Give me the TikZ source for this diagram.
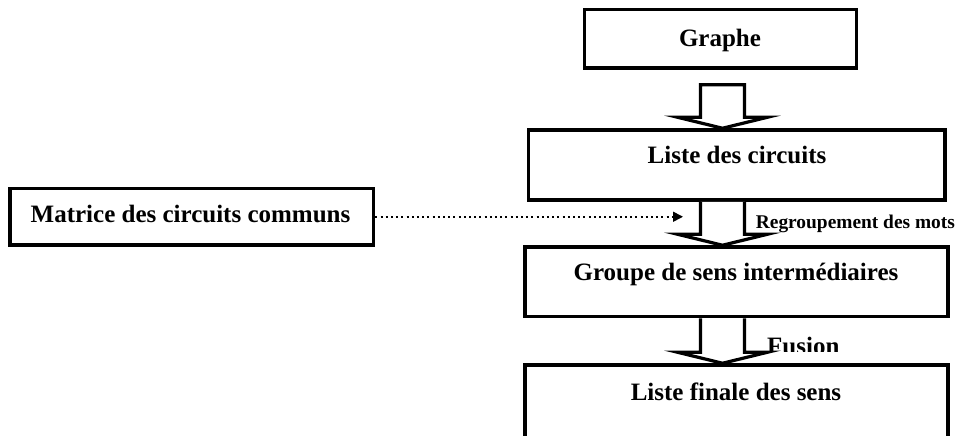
\documentclass[tikz,border=0pt]{standalone}
\usepackage{fontspec}
\setmainfont{Liberation Serif}
\usetikzlibrary{calc,arrows.meta}
\tikzset{
  box/.style={draw, line width=3.5pt, rectangle, inner sep=0pt, fill=white},
  txt/.style={font=\bfseries\fontsize{25}{28}\selectfont, inner sep=0pt, anchor=base},
  smalltxt/.style={font=\bfseries\fontsize{19.4}{22}\selectfont, inner sep=0pt, anchor=base west},
  blk/.style={draw, line width=3.2pt, fill=white, line join=miter},
  dotline/.style={line width=1.6pt, dash pattern=on 2pt off 3.2pt, -{Triangle[length=10pt,width=10pt]}}
}
\begin{document}
\begin{tikzpicture}[x=1pt,y=-1pt]
\useasboundingbox (0,0) rectangle (962,436);
\clip (0,0) rectangle (962,436);
% boxes
\node[box, minimum width=272pt, minimum height=58.5pt] (g) at (720.5,38.75) {};
\node[box, minimum width=416.5pt, minimum height=70pt] (lc) at (736.75,165) {};
\node[box, minimum width=423pt, minimum height=69.5pt] (gs) at (736.5,281.75) {};
\node[box, minimum width=423pt, minimum height=95pt] (lf) at (736.5,412.5) {};
\node[box, minimum width=363.7pt, minimum height=56.5pt] (mc) at (191.85,216.75) {};
% texts
\node[txt] (tg) at (720,47) {Graphe};
\node[txt] (tlc) at (737,163) {Liste des circuits};
\node[txt] (tgs) at (736,280) {Groupe de sens intermédiaires};
\node[txt] (tlf) at (736,400) {Liste finale des sens};
\node[txt] (tmc) at (190.5,222.5) {Matrice des circuits communs};
% block arrows
\coordinate (ax) at (722.5,0);
\draw[blk] ($(ax|-g.south)+(-22,15)$) -- ($(ax|-lc.north)+(-22,-11)$) -- ($(ax|-lc.north)+(-45,-11)$)
  -- (ax|-lc.north) -- ($(ax|-lc.north)+(45,-11)$) -- ($(ax|-lc.north)+(22,-11)$)
  -- ($(ax|-g.south)+(22,15)$) -- cycle;
\draw[blk] ($(ax|-lc.south)+(-22,0)$) -- ($(ax|-gs.north)+(-22,-11)$) -- ($(ax|-gs.north)+(-45,-11)$)
  -- (ax|-gs.north) -- ($(ax|-gs.north)+(45,-11)$) -- ($(ax|-gs.north)+(22,-11)$)
  -- ($(ax|-lc.south)+(22,0)$);
\draw[blk] ($(ax|-gs.south)+(-22,0)$) -- ($(ax|-lf.north)+(-22,-11)$) -- ($(ax|-lf.north)+(-45,-11)$)
  -- (ax|-lf.north) -- ($(ax|-lf.north)+(45,-11)$) -- ($(ax|-lf.north)+(22,-11)$)
  -- ($(ax|-gs.south)+(22,0)$);
% dotted connector
\coordinate (dt) at (683,216.75);
\draw[dotline] (mc.east) -- (dt);
% labels
\node[smalltxt] (lr) at (755.7,228) {Regroupement des mots};
\begin{scope}
\clip (700,320) rectangle (900,351);
\node[txt, anchor=base west] (lfu) at (767,354.5) {Fusion};
\end{scope}
\end{tikzpicture}
\end{document}
